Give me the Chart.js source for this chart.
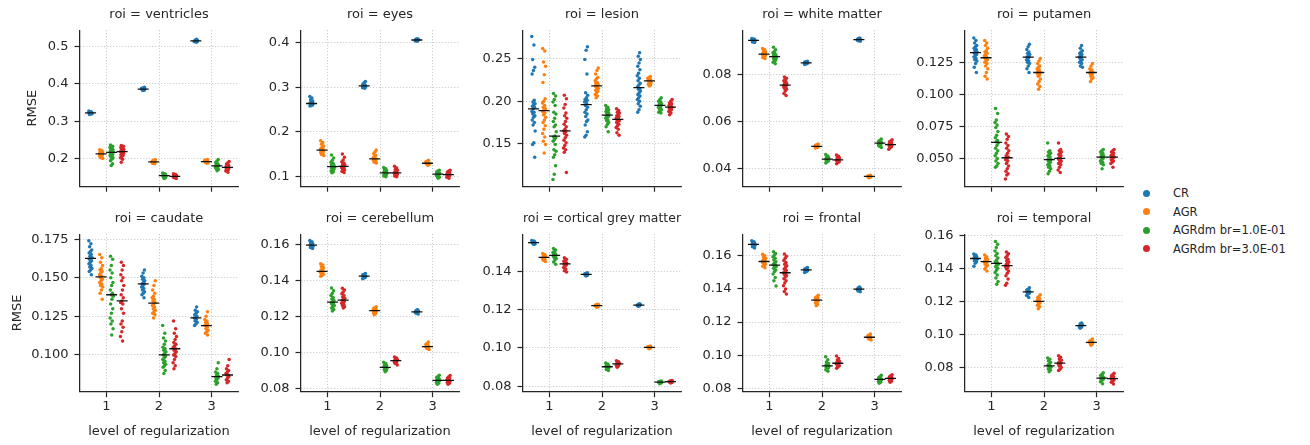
<!DOCTYPE html>
<html>
<head>
<meta charset="utf-8">
<script src="https://cdn.jsdelivr.net/npm/chart.js@4.4.0/dist/chart.umd.min.js"></script>
<style>
  body { margin: 0; background: #fff; width: 1310px; height: 445px; position: relative; overflow: hidden; font-family: "DejaVu Sans", sans-serif; }
  canvas { position: absolute; }
  .item { position: absolute; left: 1140px; white-space: nowrap; font-size: 11.5px; color: #262626; height: 14px; line-height: 14px; }
  .dot { position: absolute; left: 3px; top: 3.5px; width: 7px; height: 7px; border-radius: 50%; }
  .item span { position: absolute; left: 33px; top: 0; }
</style>
</head>
<body>
<script>
const seriesNames = ['CR', 'AGR', 'AGRdm br=1.0E-01', 'AGRdm br=3.0E-01'];
const seriesColors = ['#1f77b4', '#ff7f0e', '#2ca02c', '#d62728'];
const levels = [1, 2, 3];
const levelLabels = ['1', '2', '3'];
const rois = ['ventricles', 'eyes', 'lesion', 'white matter', 'putamen',
  'caudate', 'cerebellum', 'cortical grey matter', 'frontal', 'temporal'];

// each roi: [CR, AGR, AGRdm 0.1, AGRdm 0.3], each of those: [level1, level2, level3]
const ventricles = [
  [[0.327,0.325,0.324,0.323,0.322,0.322,0.321,0.321,0.320,0.319,0.318,0.324],
   [0.391,0.389,0.388,0.387,0.386,0.386,0.385,0.384,0.383,0.382,0.387,0.385],
   [0.520,0.518,0.517,0.516,0.515,0.515,0.514,0.513,0.512,0.516,0.514,0.517]],
  [[0.223,0.221,0.219,0.217,0.216,0.215,0.214,0.213,0.212,0.211,0.210,0.209,0.208,0.206,0.204,0.202,0.200],
   [0.197,0.195,0.194,0.193,0.192,0.191,0.191,0.190,0.189,0.188,0.187,0.186],
   [0.197,0.196,0.195,0.194,0.193,0.192,0.191,0.191,0.190,0.189,0.188,0.187]],
  [[0.236,0.233,0.231,0.229,0.227,0.225,0.223,0.221,0.220,0.219,0.218,0.217,0.216,0.214,0.212,0.210,0.208,0.206,0.204,0.201,0.198,0.194,0.186,0.181],
   [0.161,0.159,0.157,0.156,0.155,0.154,0.154,0.153,0.152,0.151,0.150,0.148,0.146],
   [0.197,0.193,0.189,0.186,0.184,0.182,0.181,0.180,0.179,0.178,0.176,0.174,0.172,0.170,0.167]],
  [[0.235,0.233,0.231,0.229,0.227,0.225,0.224,0.222,0.221,0.220,0.219,0.218,0.217,0.216,0.214,0.212,0.210,0.208,0.205,0.202,0.198,0.190],
   [0.159,0.157,0.155,0.154,0.153,0.152,0.152,0.151,0.150,0.149,0.148,0.146],
   [0.192,0.188,0.185,0.182,0.180,0.178,0.177,0.176,0.175,0.174,0.172,0.170,0.168,0.166,0.163]]
];
const eyes = [
  [[0.279,0.276,0.272,0.269,0.267,0.265,0.264,0.263,0.263,0.262,0.261,0.260,0.259,0.258],
   [0.313,0.310,0.307,0.305,0.304,0.303,0.303,0.302,0.301,0.300,0.299,0.298],
   [0.409,0.408,0.407,0.406,0.406,0.405,0.405,0.404,0.403,0.407]],
  [[0.180,0.176,0.172,0.168,0.165,0.163,0.161,0.160,0.159,0.158,0.157,0.156,0.155,0.153,0.151,0.149,0.147],
   [0.159,0.155,0.151,0.147,0.144,0.142,0.140,0.139,0.138,0.137,0.136,0.134,0.132,0.130],
   [0.136,0.134,0.133,0.132,0.131,0.130,0.129,0.129,0.128,0.127,0.126,0.125]],
  [[0.148,0.141,0.136,0.132,0.129,0.127,0.125,0.124,0.123,0.122,0.121,0.120,0.119,0.118,0.116,0.114,0.112,0.110,0.108],
   [0.120,0.117,0.115,0.113,0.111,0.110,0.109,0.108,0.107,0.106,0.105,0.104,0.103,0.101,0.099],
   [0.114,0.112,0.110,0.109,0.108,0.107,0.106,0.105,0.104,0.103,0.102,0.101,0.100,0.098,0.096]],
  [[0.150,0.143,0.137,0.133,0.130,0.128,0.126,0.124,0.123,0.122,0.121,0.120,0.119,0.117,0.115,0.113,0.111,0.109],
   [0.123,0.119,0.116,0.114,0.112,0.110,0.109,0.108,0.107,0.106,0.105,0.104,0.103,0.101,0.099],
   [0.114,0.112,0.110,0.108,0.107,0.106,0.105,0.104,0.104,0.103,0.102,0.101,0.100,0.098,0.096]]
];
const lesion = [
  [[0.276,0.266,0.249,0.240,0.236,0.232,0.201,0.199,0.197,0.196,0.194,0.193,0.191,0.188,0.187,0.185,0.183,0.181,0.178,0.175,0.172,0.165,0.151,0.149,0.134],
   [0.264,0.260,0.249,0.232,0.210,0.207,0.204,0.202,0.201,0.200,0.199,0.197,0.195,0.193,0.190,0.187,0.185,0.182,0.178,0.176,0.172,0.164,0.160,0.158],
   [0.257,0.253,0.249,0.245,0.241,0.237,0.233,0.230,0.227,0.224,0.221,0.219,0.217,0.215,0.214,0.212,0.210,0.208,0.206,0.204,0.202,0.200,0.197,0.194,0.190,0.187]],
  [[0.262,0.259,0.246,0.241,0.231,0.222,0.203,0.200,0.198,0.195,0.193,0.191,0.190,0.188,0.186,0.184,0.181,0.178,0.175,0.171,0.167,0.162,0.158,0.153,0.149,0.139],
   [0.239,0.236,0.232,0.228,0.226,0.224,0.222,0.221,0.220,0.219,0.218,0.217,0.216,0.215,0.214,0.213,0.212,0.210,0.208,0.206,0.204],
   [0.229,0.228,0.227,0.226,0.225,0.225,0.224,0.224,0.223,0.223,0.222,0.221,0.220,0.219,0.218]],
  [[0.209,0.206,0.202,0.199,0.195,0.187,0.185,0.180,0.176,0.172,0.170,0.164,0.159,0.158,0.157,0.155,0.153,0.149,0.143,0.141,0.137,0.134,0.124,0.114,0.108],
   [0.195,0.193,0.191,0.190,0.189,0.188,0.187,0.186,0.185,0.184,0.183,0.182,0.181,0.180,0.178,0.177,0.175,0.173,0.170,0.164],
   [0.204,0.202,0.200,0.199,0.198,0.197,0.196,0.195,0.195,0.194,0.193,0.192,0.191,0.190,0.189,0.187,0.186]],
  [[0.207,0.203,0.196,0.192,0.186,0.183,0.180,0.176,0.173,0.170,0.167,0.165,0.164,0.162,0.160,0.157,0.154,0.151,0.148,0.145,0.143,0.140,0.116],
   [0.191,0.189,0.187,0.186,0.184,0.183,0.182,0.181,0.180,0.179,0.178,0.177,0.176,0.175,0.173,0.171,0.169,0.167,0.163,0.160],
   [0.202,0.200,0.198,0.197,0.196,0.195,0.194,0.193,0.193,0.192,0.191,0.190,0.189,0.188,0.186,0.184]]
];
const whiteMatter = [
  [[0.0953,0.0951,0.0949,0.0947,0.0946,0.0945,0.0944,0.0943,0.0942,0.0940,0.0938,0.0936],
   [0.0856,0.0854,0.0852,0.0851,0.0850,0.0849,0.0848,0.0847,0.0846,0.0844,0.0842],
   [0.0955,0.0953,0.0951,0.0950,0.0949,0.0948,0.0947,0.0946,0.0945,0.0943,0.0941]],
  [[0.0910,0.0905,0.0900,0.0896,0.0893,0.0890,0.0888,0.0886,0.0885,0.0883,0.0881,0.0879,0.0876,0.0872,0.0867],
   [0.0503,0.0500,0.0498,0.0496,0.0494,0.0493,0.0492,0.0491,0.0490,0.0488,0.0486],
   [0.0370,0.0368,0.0367,0.0366,0.0365,0.0364,0.0363,0.0362,0.0361,0.0359]],
  [[0.0915,0.0905,0.0897,0.0892,0.0888,0.0884,0.0881,0.0878,0.0876,0.0875,0.0873,0.0871,0.0868,0.0865,0.0861,0.0856,0.0851,0.0845],
   [0.0458,0.0452,0.0448,0.0445,0.0442,0.0440,0.0439,0.0438,0.0437,0.0435,0.0433,0.0430,0.0427,0.0422],
   [0.0524,0.0519,0.0515,0.0512,0.0510,0.0508,0.0507,0.0506,0.0505,0.0503,0.0500,0.0497,0.0493,0.0488]],
  [[0.0788,0.0783,0.0778,0.0773,0.0768,0.0763,0.0760,0.0757,0.0755,0.0753,0.0751,0.0748,0.0745,0.0741,0.0736,0.0729,0.0718,0.0710],
   [0.0456,0.0451,0.0447,0.0443,0.0440,0.0437,0.0436,0.0435,0.0434,0.0432,0.0430,0.0427,0.0424,0.0419],
   [0.0521,0.0516,0.0512,0.0508,0.0505,0.0502,0.0501,0.0500,0.0499,0.0497,0.0494,0.0491,0.0487,0.0481]]
];
const putamen = [
  [[0.144,0.142,0.140,0.138,0.137,0.136,0.135,0.134,0.133,0.133,0.132,0.131,0.130,0.129,0.128,0.127,0.126,0.124,0.121,0.117],
   [0.139,0.137,0.135,0.133,0.132,0.131,0.130,0.129,0.129,0.128,0.127,0.126,0.125,0.124,0.122,0.120,0.117],
   [0.138,0.136,0.134,0.133,0.132,0.131,0.130,0.129,0.129,0.128,0.127,0.126,0.125,0.124,0.122,0.121]],
  [[0.142,0.140,0.138,0.136,0.134,0.133,0.132,0.131,0.130,0.129,0.128,0.127,0.126,0.125,0.124,0.122,0.120,0.117,0.114,0.112],
   [0.128,0.126,0.124,0.122,0.121,0.120,0.119,0.118,0.117,0.117,0.116,0.115,0.114,0.112,0.110,0.108,0.106,0.104],
   [0.124,0.122,0.120,0.119,0.118,0.117,0.117,0.116,0.115,0.114,0.113,0.112,0.110]],
  [[0.089,0.085,0.080,0.078,0.076,0.074,0.071,0.068,0.066,0.064,0.063,0.062,0.060,0.058,0.056,0.054,0.052,0.050,0.048,0.046,0.044,0.043],
   [0.062,0.056,0.055,0.054,0.053,0.052,0.051,0.050,0.049,0.049,0.048,0.047,0.046,0.045,0.044,0.043,0.042,0.040,0.038],
   [0.057,0.056,0.055,0.054,0.053,0.052,0.051,0.051,0.050,0.049,0.048,0.047,0.046,0.045,0.042]],
  [[0.069,0.067,0.065,0.062,0.060,0.058,0.056,0.054,0.052,0.051,0.050,0.049,0.048,0.046,0.044,0.042,0.040,0.038,0.037,0.034],
   [0.062,0.057,0.056,0.055,0.054,0.053,0.052,0.051,0.050,0.050,0.049,0.048,0.047,0.046,0.045,0.043,0.041,0.039],
   [0.057,0.056,0.055,0.054,0.053,0.052,0.052,0.051,0.051,0.050,0.049,0.048,0.047,0.046,0.043]]
];
const caudate = [
  [[0.174,0.172,0.170,0.168,0.167,0.166,0.165,0.164,0.163,0.163,0.162,0.161,0.160,0.159,0.158,0.157,0.156,0.155,0.154,0.152],
   [0.155,0.153,0.151,0.150,0.149,0.148,0.147,0.146,0.146,0.145,0.144,0.143,0.142,0.141,0.140,0.139,0.137],
   [0.131,0.129,0.128,0.127,0.126,0.125,0.124,0.124,0.123,0.122,0.121,0.120,0.119]],
  [[0.165,0.163,0.160,0.158,0.156,0.155,0.154,0.153,0.152,0.151,0.150,0.149,0.148,0.147,0.146,0.145,0.144,0.142,0.140,0.136],
   [0.148,0.145,0.142,0.140,0.138,0.137,0.136,0.135,0.134,0.133,0.132,0.131,0.130,0.129,0.128,0.127,0.126,0.124],
   [0.128,0.125,0.123,0.122,0.121,0.120,0.119,0.119,0.118,0.117,0.116,0.115,0.114,0.113]],
  [[0.164,0.162,0.158,0.155,0.153,0.150,0.147,0.145,0.142,0.140,0.139,0.138,0.136,0.133,0.130,0.127,0.124,0.122,0.120,0.117,0.113],
   [0.119,0.114,0.111,0.109,0.107,0.105,0.104,0.103,0.102,0.101,0.100,0.099,0.098,0.097,0.096,0.095,0.094,0.093,0.092,0.090,0.088],
   [0.095,0.091,0.089,0.088,0.087,0.086,0.086,0.085,0.085,0.084,0.083,0.082,0.081]],
  [[0.160,0.158,0.155,0.152,0.150,0.148,0.145,0.142,0.139,0.137,0.135,0.134,0.133,0.130,0.127,0.122,0.120,0.118,0.115,0.112,0.109],
   [0.122,0.117,0.114,0.112,0.110,0.108,0.107,0.106,0.105,0.104,0.103,0.102,0.101,0.100,0.099,0.097,0.095,0.093,0.091],
   [0.097,0.093,0.091,0.090,0.089,0.088,0.087,0.087,0.086,0.085,0.084,0.083,0.082]]
];
const cerebellum = [
  [[0.1625,0.1618,0.1612,0.1607,0.1603,0.1600,0.1598,0.1596,0.1593,0.1590,0.1586,0.1580],
   [0.1440,0.1436,0.1433,0.1430,0.1428,0.1426,0.1424,0.1422,0.1419,0.1416,0.1412],
   [0.1238,0.1235,0.1232,0.1230,0.1228,0.1227,0.1226,0.1224,0.1222,0.1219,0.1215]],
  [[0.1495,0.1488,0.1480,0.1473,0.1466,0.1460,0.1455,0.1451,0.1448,0.1445,0.1441,0.1436,0.1430,0.1425],
   [0.1255,0.1250,0.1245,0.1241,0.1238,0.1235,0.1233,0.1231,0.1228,0.1225,0.1221,0.1216,0.1210],
   [0.1058,0.1050,0.1044,0.1040,0.1036,0.1033,0.1031,0.1029,0.1026,0.1022,0.1017]],
  [[0.1360,0.1345,0.1330,0.1318,0.1307,0.1298,0.1290,0.1283,0.1278,0.1273,0.1268,0.1262,0.1255,0.1248,0.1240,0.1232],
   [0.0945,0.0938,0.0932,0.0927,0.0923,0.0920,0.0917,0.0915,0.0912,0.0909,0.0905,0.0900,0.0893],
   [0.0873,0.0866,0.0860,0.0855,0.0851,0.0847,0.0844,0.0842,0.0840,0.0837,0.0833,0.0828,0.0822]],
  [[0.1358,0.1348,0.1338,0.1328,0.1318,0.1310,0.1302,0.1295,0.1290,0.1285,0.1280,0.1274,0.1268,0.1262,0.1255,0.1248],
   [0.0975,0.0969,0.0964,0.0960,0.0957,0.0955,0.0953,0.0950,0.0947,0.0943,0.0938,0.0930],
   [0.0871,0.0864,0.0858,0.0854,0.0850,0.0846,0.0844,0.0842,0.0840,0.0837,0.0833,0.0828,0.0823]]
];
const corticalGreyMatter = [
  [[0.1560,0.1557,0.1554,0.1552,0.1550,0.1549,0.1547,0.1545,0.1542,0.1539],
   [0.1392,0.1389,0.1387,0.1385,0.1384,0.1383,0.1382,0.1380,0.1378,0.1375],
   [0.1230,0.1228,0.1226,0.1225,0.1224,0.1223,0.1222,0.1221,0.1219,0.1217]],
  [[0.1492,0.1487,0.1482,0.1478,0.1475,0.1473,0.1471,0.1469,0.1466,0.1462,0.1457,0.1451],
   [0.1228,0.1226,0.1224,0.1222,0.1221,0.1220,0.1219,0.1217,0.1215,0.1212],
   [0.1010,0.1008,0.1006,0.1005,0.1004,0.1003,0.1002,0.1001,0.0999,0.0996]],
  [[0.1518,0.1510,0.1503,0.1497,0.1492,0.1488,0.1485,0.1483,0.1480,0.1477,0.1472,0.1466,0.1458,0.1448,0.1436],
   [0.0922,0.0916,0.0911,0.0908,0.0905,0.0903,0.0901,0.0899,0.0897,0.0893,0.0888,0.0883],
   [0.0828,0.0826,0.0824,0.0823,0.0822,0.0821,0.0820,0.0819,0.0817,0.0814]],
  [[0.1470,0.1463,0.1457,0.1452,0.1447,0.1443,0.1440,0.1438,0.1436,0.1432,0.1427,0.1420,0.1412,0.1403,0.1396],
   [0.0933,0.0928,0.0924,0.0921,0.0918,0.0917,0.0915,0.0913,0.0910,0.0906,0.0900],
   [0.0831,0.0829,0.0827,0.0826,0.0825,0.0824,0.0823,0.0822,0.0820,0.0817]]
];
const frontal = [
  [[0.1692,0.1685,0.1680,0.1676,0.1673,0.1671,0.1669,0.1667,0.1664,0.1660,0.1655,0.1648],
   [0.1530,0.1525,0.1521,0.1518,0.1516,0.1515,0.1513,0.1511,0.1508,0.1504,0.1499],
   [0.1412,0.1408,0.1405,0.1402,0.1400,0.1399,0.1397,0.1395,0.1392,0.1388,0.1383]],
  [[0.1610,0.1600,0.1592,0.1585,0.1579,0.1574,0.1570,0.1566,0.1563,0.1559,0.1555,0.1550,0.1544,0.1537,0.1528],
   [0.1362,0.1355,0.1349,0.1344,0.1340,0.1336,0.1333,0.1330,0.1327,0.1322,0.1315,0.1306,0.1298],
   [0.1128,0.1122,0.1117,0.1113,0.1110,0.1108,0.1106,0.1104,0.1101,0.1097,0.1091]],
  [[0.1625,0.1615,0.1605,0.1595,0.1585,0.1575,0.1565,0.1557,0.1550,0.1545,0.1542,0.1538,0.1533,0.1525,0.1515,0.1505,0.1490,0.1470,0.1450,0.1418],
   [0.0990,0.0972,0.0958,0.0950,0.0944,0.0940,0.0937,0.0935,0.0933,0.0930,0.0927,0.0923,0.0918,0.0911,0.0903],
   [0.0878,0.0870,0.0864,0.0860,0.0857,0.0855,0.0853,0.0851,0.0848,0.0845,0.0841,0.0836,0.0830]],
  [[0.1612,0.1598,0.1585,0.1572,0.1560,0.1550,0.1540,0.1530,0.1520,0.1512,0.1505,0.1498,0.1492,0.1487,0.1480,0.1472,0.1462,0.1450,0.1436,0.1420,0.1400,0.1385,0.1370],
   [0.0995,0.0980,0.0970,0.0963,0.0958,0.0955,0.0952,0.0950,0.0948,0.0945,0.0941,0.0936,0.0929,0.0921],
   [0.0882,0.0875,0.0870,0.0866,0.0863,0.0861,0.0859,0.0857,0.0854,0.0851,0.0847,0.0842,0.0836]]
];
const temporal = [
  [[0.1487,0.1480,0.1474,0.1469,0.1465,0.1462,0.1460,0.1458,0.1455,0.1451,0.1446,0.1440,0.1430,0.1413],
   [0.1282,0.1274,0.1268,0.1263,0.1260,0.1258,0.1256,0.1253,0.1249,0.1243,0.1235,0.1224],
   [0.1070,0.1064,0.1060,0.1057,0.1054,0.1052,0.1050,0.1047,0.1043,0.1038]],
  [[0.1480,0.1470,0.1462,0.1455,0.1450,0.1446,0.1442,0.1440,0.1436,0.1431,0.1425,0.1417,0.1408,0.1395,0.1383],
   [0.1240,0.1230,0.1222,0.1215,0.1209,0.1204,0.1200,0.1196,0.1191,0.1185,0.1177,0.1167,0.1155],
   [0.0972,0.0965,0.0960,0.0956,0.0953,0.0951,0.0948,0.0945,0.0941,0.0935]],
  [[0.1562,0.1545,0.1525,0.1505,0.1490,0.1475,0.1462,0.1450,0.1440,0.1433,0.1430,0.1425,0.1418,0.1410,0.1400,0.1388,0.1375,0.1360,0.1342,0.1320,0.1303],
   [0.0858,0.0850,0.0840,0.0830,0.0822,0.0815,0.0810,0.0806,0.0802,0.0797,0.0791,0.0784,0.0775],
   [0.0768,0.0760,0.0752,0.0746,0.0741,0.0738,0.0735,0.0732,0.0728,0.0722,0.0714,0.0702]],
  [[0.1498,0.1488,0.1476,0.1465,0.1455,0.1446,0.1438,0.1430,0.1423,0.1417,0.1414,0.1410,0.1404,0.1395,0.1384,0.1370,0.1355,0.1335,0.1310,0.1297],
   [0.0872,0.0862,0.0852,0.0844,0.0837,0.0831,0.0828,0.0825,0.0821,0.0816,0.0810,0.0801,0.0790,0.0782],
   [0.0766,0.0758,0.0750,0.0744,0.0739,0.0735,0.0732,0.0729,0.0725,0.0719,0.0711,0.0700]]
];
const roiData = [ventricles, eyes, lesion, whiteMatter, putamen, caudate, cerebellum, corticalGreyMatter, frontal, temporal];

const yMin = [0.1255, 0.078, 0.100, 0.0323, 0.0283, 0.0762, 0.0781, 0.0772, 0.0779, 0.0654];
const yMax = [0.544, 0.428, 0.2835, 0.0988, 0.150, 0.1782, 0.166, 0.1593, 0.1731, 0.1606];
const yTicks = [
  [0.2, 0.3, 0.4, 0.5], [0.1, 0.2, 0.3, 0.4], [0.15, 0.20, 0.25], [0.04, 0.06, 0.08],
  [0.050, 0.075, 0.100, 0.125], [0.100, 0.125, 0.150, 0.175], [0.08, 0.10, 0.12, 0.14, 0.16],
  [0.08, 0.10, 0.12, 0.14], [0.08, 0.10, 0.12, 0.14, 0.16], [0.08, 0.10, 0.12, 0.14, 0.16]
];
const yTickLabels = [
  ['0.2', '0.3', '0.4', '0.5'], ['0.1', '0.2', '0.3', '0.4'], ['0.15', '0.20', '0.25'], ['0.04', '0.06', '0.08'],
  ['0.050', '0.075', '0.100', '0.125'], ['0.100', '0.125', '0.150', '0.175'], ['0.08', '0.10', '0.12', '0.14', '0.16'],
  ['0.08', '0.10', '0.12', '0.14'], ['0.08', '0.10', '0.12', '0.14', '0.16'], ['0.08', '0.10', '0.12', '0.14', '0.16']
];

// layout
const plotLeft = [80, 301, 523, 743, 965];
const plotW = 158;
const padR = 10;
const dodge = [-0.3, -0.1, 0.1, 0.3];
const ink = '#262626';
// the ylabel sits just left of the widest tick label, so row 2 is further out
const rmsePad = [19.7, 4.7];

Chart.defaults.font.family = '"DejaVu Sans", sans-serif';
Chart.defaults.font.size = 13;
Chart.defaults.color = ink;

function median(arr) {
  const s = [...arr].sort((a, b) => a - b);
  const m = Math.floor(s.length / 2);
  return s.length % 2 ? s[m] : (s[m - 1] + s[m]) / 2;
}
// small spread so the dots of one group do not sit on a single column
const jitter = i => (((i * 0.618034) % 1) - 0.5) * 0.065;

rois.forEach((roi, p) => {
  const row = Math.floor(p / 5), col = p % 5;
  const yAxisW = col === 0 ? 75 : 50;
  const w = yAxisW + plotW + padR;
  const h = row === 0 ? 200 : 241;
  const canvas = document.createElement('canvas');
  canvas.width = w; canvas.height = h;
  canvas.style.left = (plotLeft[col] - yAxisW) + 'px';
  canvas.style.top = (row === 0 ? 0 : 204) + 'px';
  document.body.appendChild(canvas);

  const datasets = [];
  roiData[p].forEach((series, s) => {
    const pts = [];
    series.forEach((vals, l) => {
      vals.forEach((v, i) => pts.push({ x: levels[l] + dodge[s] + jitter(i + 5 * s + 3 * l), y: v }));
    });
    datasets.push({ data: pts, backgroundColor: seriesColors[s], pointRadius: 1.75, pointBorderWidth: 0, order: 1 });
    series.forEach((vals, l) => {
      const m = median(vals), cx = levels[l] + dodge[s];
      datasets.push({
        data: [{ x: cx - 0.105, y: m }, { x: cx + 0.105, y: m }],
        showLine: true, borderColor: '#111', borderWidth: 1.3, pointRadius: 0, order: 0
      });
    });
  });

  const grid = { color: 'rgba(0,0,0,0.3)', lineWidth: 0.8, tickColor: ink, tickLength: 5.5, tickWidth: 1.2, tickBorderDash: [] };
  const border = { color: ink, width: 1.25, dash: [1, 2] };

  new Chart(canvas, {
    type: 'scatter',
    data: { datasets },
    options: {
      responsive: false,
      animation: false,
      events: [],
      layout: { padding: { left: 0, right: padR, top: 0, bottom: 0 } },
      plugins: {
        legend: { display: false },
        tooltip: { enabled: false },
        title: { display: true, text: 'roi = ' + roi, fullSize: false, color: ink,
                 font: { size: 13, weight: 'normal' }, padding: { top: 7.2, bottom: 7.4 } }
      },
      scales: {
        x: {
          type: 'linear', min: 0.5, max: 3.5,
          afterBuildTicks: sc => { sc.ticks = levels.map(v => ({ value: v })); },
          afterFit: sc => { sc.height = row === 0 ? 11 : 53.3; },
          ticks: { callback: (v, i) => row === 0 ? '' : levelLabels[i], padding: 2, maxRotation: 0, autoSkip: false },
          grid, border,
          title: { display: row === 1, text: 'level of regularization', font: { size: 13 }, padding: { top: 4, bottom: 5.5 } }
        },
        y: {
          type: 'linear', min: yMin[p], max: yMax[p],
          afterBuildTicks: sc => { sc.ticks = yTicks[p].map(v => ({ value: v })); },
          afterFit: sc => { sc.width = yAxisW; },
          ticks: { callback: (v, i) => yTickLabels[p][i], padding: 6, autoSkip: false },
          grid, border,
          title: { display: col === 0, text: 'RMSE', font: { size: 13 }, padding: { top: rmsePad[row], bottom: 0 } }
        }
      }
    }
  });
});

// legend
const legendY = [193, 211.5, 230, 248.5];
seriesNames.forEach((name, s) => {
  const item = document.createElement('div');
  item.className = 'item';
  item.style.top = (legendY[s] - 7) + 'px';
  item.innerHTML = '<div class="dot" style="background:' + seriesColors[s] + '"></div><span>' + name + '</span>';
  document.body.appendChild(item);
});
</script>
</body>
</html>
